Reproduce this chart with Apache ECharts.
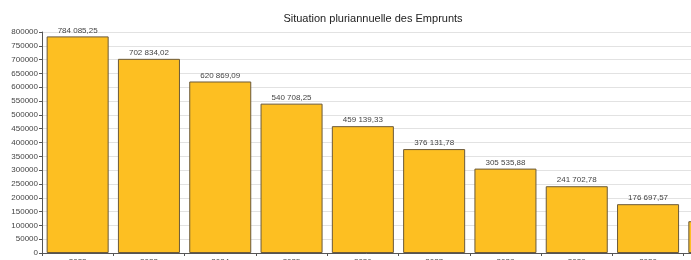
<!DOCTYPE html>
<html>
<head>
<meta charset="utf-8">
<script src="https://cdn.jsdelivr.net/npm/echarts@6/dist/echarts.min.js"></script>
<style>
  html, body { margin: 0; padding: 0; background: #fff; }
  #main { width: 691px; height: 260px; }
</style>
</head>
<body>
<div id="main"></div>
<script>
const years = ["2022", "2023", "2024", "2025", "2026", "2027", "2028", "2029", "2030", "2031"];
const emprunts = [784085.25, 702834.02, 620869.09, 540708.25, 459139.33, 376131.78, 305535.88, 241702.78, 176697.57, 115000];

// format "784 085,25"
function frNum(v) {
  const parts = v.toFixed(2).split(".");
  const ent = parts[0].replace(/\B(?=(\d{3})+(?!\d))/g, " ");
  return ent + "," + parts[1];
}

const myChart = echarts.init(document.getElementById("main"));
const option = {
  animation: false,
  textStyle: { fontFamily: "Liberation Sans" },
  title: {
    text: "Situation pluriannuelle des Emprunts",
    left: 368,
    textAlign: "center",
    top: 8,
    textStyle: { fontSize: 11, fontWeight: "normal", color: "#222" }
  },
  // graphique coupé à droite et en bas comme l'original
  grid: { left: 42, top: 32, width: 713, height: 221, outerBoundsMode: "none", containLabel: false },
  xAxis: {
    type: "category",
    data: years,
    axisLine: { lineStyle: { color: "#555" } },
    axisTick: { show: true, length: 3, lineStyle: { color: "#555" } },
    axisLabel: { fontSize: 8, color: "#444", margin: 5 }
  },
  yAxis: {
    type: "value",
    min: 0,
    max: 800000,
    interval: 50000,
    axisLine: { show: true, lineStyle: { color: "#555" } },
    axisTick: { show: true, length: 3, lineStyle: { color: "#555" } },
    axisLabel: { fontSize: 8, color: "#444", margin: 4, formatter: v => String(v) },
    splitLine: { lineStyle: { color: "#e2e2e2" } }
  },
  series: [
    {
      type: "bar",
      data: emprunts,
      barCategoryGap: "13%",
      itemStyle: { color: "#FDBF22", borderColor: "#6b5a3a", borderWidth: 1 },
      label: {
        show: true,
        position: "top",
        distance: 2,
        fontSize: 8,
        color: "#444",
        formatter: p => frNum(p.value)
      }
    }
  ]
};
myChart.setOption(option);
</script>
</body>
</html>
